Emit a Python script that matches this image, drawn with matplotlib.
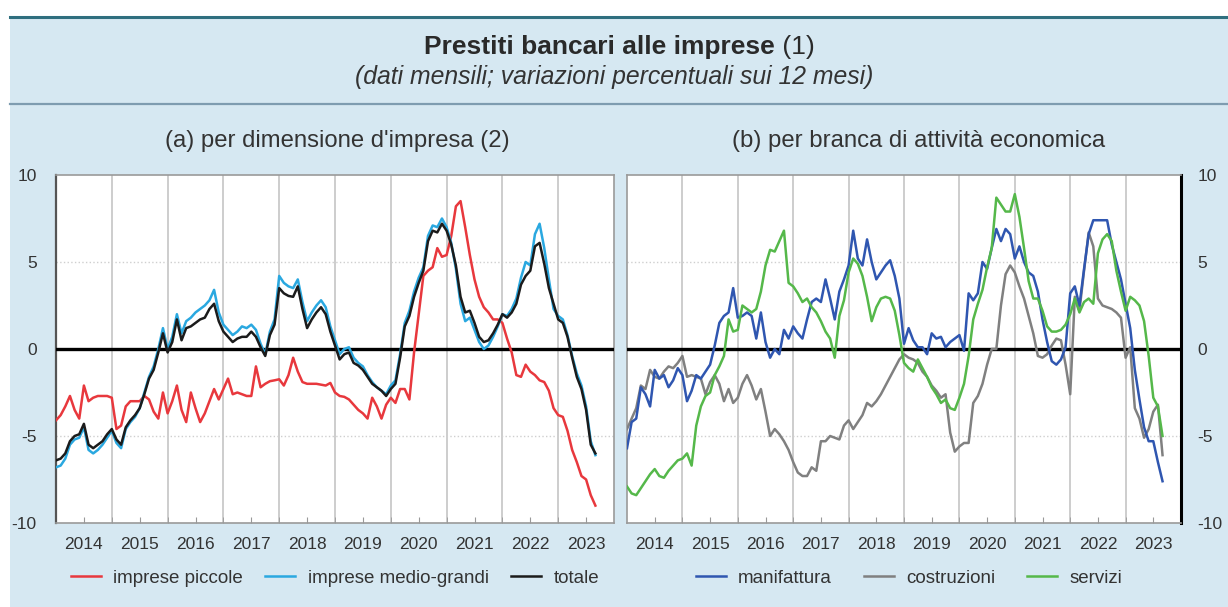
import numpy as np
import matplotlib.pyplot as plt
from matplotlib.patches import Rectangle
from matplotlib.lines import Line2D

plt.rcParams['font.family'] = ['Liberation Sans', 'DejaVu Sans']

# monthly data, Jan 2014 - Sep 2023
start_year = 2014
years = list(range(2014, 2024))

piccole = [-4.1, -3.8, -3.3, -2.7, -3.5, -4.0, -2.1, -3.0, -2.8, -2.7, -2.7, -2.7,
           -2.8, -4.6, -4.4, -3.3, -3.0, -3.0, -3.0, -2.7, -2.9, -3.6, -4.0, -2.5,
           -3.7, -3.0, -2.1, -3.5, -4.2, -2.5, -3.4, -4.2, -3.7, -3.0, -2.3, -2.9,
           -2.3, -1.7, -2.6, -2.5, -2.6, -2.7, -2.7, -1.0, -2.2, -2.0, -1.85, -1.8,
           -1.74, -2.1, -1.5, -0.5, -1.3, -1.9, -2.0, -2.0, -2.0, -2.05, -2.1, -1.95,
           -2.5, -2.7, -2.75, -2.9, -3.2, -3.5, -3.7, -4.0, -2.8, -3.3, -4.0, -3.2,
           -2.8, -3.1, -2.3, -2.3, -2.9, -0.2, 2.0, 4.2, 4.5, 4.7, 5.8, 5.3,
           5.4, 6.5, 8.2, 8.5, 7.0, 5.4, 4.0, 3.0, 2.4, 2.1, 1.7, 1.7,
           1.5, 0.6, -0.2, -1.5, -1.6, -0.9, -1.3, -1.5, -1.8, -1.9, -2.4, -3.4,
           -3.8, -3.9, -4.7, -5.8, -6.5, -7.3, -7.5, -8.4, -9.0]

medio_grandi = [-6.8, -6.7, -6.3, -5.5, -5.2, -5.1, -4.5, -5.8, -6.0, -5.8, -5.5, -5.1,
                -4.7, -5.4, -5.7, -4.6, -4.2, -3.9, -3.4, -2.5, -1.6, -1.0, 0.0, 1.2,
                0.0, 0.7, 2.0, 0.9, 1.6, 1.8, 2.1, 2.3, 2.5, 2.8, 3.4, 2.1,
                1.4, 1.1, 0.8, 1.0, 1.3, 1.2, 1.4, 1.1, 0.3, -0.3, 1.0, 1.7,
                4.2, 3.8, 3.6, 3.5, 4.0, 2.7, 1.6, 2.1, 2.5, 2.8, 2.4, 1.3,
                0.5, -0.3, 0.0, 0.1, -0.5, -0.8, -1.0, -1.5, -1.9, -2.2, -2.4, -2.6,
                -2.1, -1.8, -0.3, 1.5, 2.2, 3.3, 4.1, 4.7, 6.5, 7.1, 7.0, 7.5,
                7.0, 6.1, 4.6, 2.6, 1.6, 1.8, 1.1, 0.4, 0.0, 0.2, 0.7, 1.3,
                2.0, 1.9, 2.3, 2.9, 4.1, 5.0, 4.8, 6.6, 7.2, 5.8, 4.0, 2.3,
                1.9, 1.7, 0.8, -0.4, -1.4, -2.1, -3.3, -5.3, -6.1]

totale = [-6.4, -6.3, -6.0, -5.3, -5.0, -4.9, -4.3, -5.5, -5.7, -5.5, -5.3, -4.9,
          -4.6, -5.2, -5.5, -4.5, -4.1, -3.8, -3.4, -2.6, -1.7, -1.2, -0.2, 0.9,
          -0.2, 0.4, 1.7, 0.5, 1.2, 1.3, 1.5, 1.7, 1.8, 2.3, 2.6, 1.6,
          1.0, 0.7, 0.4, 0.6, 0.7, 0.7, 1.0, 0.7, 0.1, -0.4, 0.8, 1.4,
          3.5, 3.2, 3.05, 3.0, 3.6, 2.3, 1.2, 1.7, 2.1, 2.4, 2.0, 1.0,
          0.2, -0.6, -0.3, -0.2, -0.8, -0.95, -1.2, -1.6, -2.0, -2.2, -2.4, -2.7,
          -2.3, -2.0, -0.5, 1.3, 1.9, 3.0, 3.8, 4.5, 6.2, 6.8, 6.7, 7.2,
          6.8, 6.0, 4.8, 3.0, 2.1, 2.2, 1.5, 0.7, 0.4, 0.5, 0.9, 1.4,
          2.0, 1.8, 2.1, 2.6, 3.7, 4.2, 4.5, 5.9, 6.1, 4.9, 3.5, 2.6,
          1.7, 1.5, 0.7, -0.5, -1.6, -2.3, -3.5, -5.5, -6.0]

manifattura = [-5.7, -4.2, -4.0, -2.2, -2.6, -3.3, -1.2, -1.7, -1.5, -2.2, -1.8, -1.1,
               -1.5, -3.0, -2.4, -1.5, -1.7, -1.3, -0.9, 0.2, 1.5, 1.9, 2.1, 3.5,
               1.8, 1.9, 2.1, 1.9, 0.6, 2.1, 0.4, -0.5, 0.0, -0.3, 1.1, 0.6,
               1.3, 0.9, 0.6, 1.7, 2.7, 2.9, 2.7, 4.0, 2.9, 1.7, 3.3, 4.0,
               4.8, 6.8, 5.2, 4.8, 6.3, 5.0, 4.0, 4.4, 4.8, 5.1, 4.2, 2.9,
               0.3, 1.2, 0.5, 0.1, 0.1, -0.3, 0.9, 0.6, 0.7, 0.1, 0.4, 0.6,
               0.8, -0.1, 3.2, 2.8, 3.2, 5.0, 4.6, 5.8, 6.9, 6.2, 6.9, 6.6,
               5.2, 5.9, 5.0, 4.4, 4.2, 3.3, 1.7, 0.4, -0.7, -0.9, -0.6, 0.1,
               3.2, 3.6, 2.5, 4.6, 6.6, 7.4, 7.4, 7.4, 7.4, 6.0, 5.0, 4.0,
               2.6, 1.2, -1.2, -2.9, -4.5, -5.3, -5.3, -6.5, -7.6]

costruzioni = [-4.6, -4.0, -3.4, -2.1, -2.3, -1.2, -1.6, -1.7, -1.3, -1.0, -1.1, -0.8,
               -0.4, -1.6, -1.5, -1.6, -1.7, -2.6, -1.9, -1.5, -2.0, -3.0, -2.3, -3.1,
               -2.8, -2.0, -1.5, -2.1, -2.9, -2.3, -3.6, -5.0, -4.6, -4.9, -5.3, -5.8,
               -6.5, -7.1, -7.3, -7.3, -6.8, -7.0, -5.3, -5.3, -5.0, -5.1, -5.2, -4.4,
               -4.1, -4.6, -4.2, -3.8, -3.1, -3.3, -3.0, -2.6, -2.1, -1.6, -1.1, -0.6,
               -0.3, -0.5, -0.6, -0.8, -1.3, -1.6, -2.1, -2.4, -2.8, -2.6, -4.8, -5.9,
               -5.6, -5.4, -5.4, -3.1, -2.7, -2.0, -0.9, 0.0, 0.0, 2.5, 4.3, 4.8,
               4.4, 3.6, 2.9, 1.9, 0.9, -0.4, -0.5, -0.3, 0.2, 0.6, 0.5, -0.9,
               -2.6, 3.0, 2.2, 4.5, 6.7, 5.9, 2.9, 2.5, 2.4, 2.3, 2.1, 1.8,
               -0.5, 0.1, -3.4, -4.0, -5.1, -4.6, -3.6, -3.2, -6.1]

servizi = [-7.9, -8.3, -8.4, -8.0, -7.6, -7.2, -6.9, -7.3, -7.4, -7.0, -6.7, -6.4,
           -6.3, -6.0, -6.7, -4.4, -3.3, -2.7, -2.5, -1.5, -1.0, -0.4, 1.7, 1.0,
           1.1, 2.5, 2.3, 2.1, 2.3, 3.3, 4.8, 5.7, 5.6, 6.2, 6.8, 3.8,
           3.6, 3.2, 2.7, 2.9, 2.4, 2.1, 1.6, 1.0, 0.6, -0.5, 1.9, 2.8,
           4.4, 5.2, 4.9, 4.2, 3.0, 1.6, 2.4, 2.9, 3.0, 2.9, 2.2, 0.8,
           -0.8, -1.1, -1.3, -0.6, -1.1, -1.6, -2.2, -2.6, -3.1, -2.9, -3.4, -3.5,
           -2.8, -2.0, -0.4, 1.7, 2.6, 3.4, 4.7, 5.8, 8.7, 8.3, 7.9, 7.9,
           8.9, 7.6, 5.8, 3.9, 2.9, 2.9, 2.2, 1.3, 1.0, 1.0, 1.1, 1.4,
           2.0, 2.9, 2.1, 2.7, 2.9, 2.6, 5.5, 6.3, 6.6, 6.2, 4.5, 3.3,
           2.2, 3.0, 2.8, 2.5, 1.6, -0.4, -2.8, -3.3, -5.0]

x = start_year + np.arange(len(totale)) / 12.0

bg = '#d6e8f2'
txt = '#333333'

fig = plt.figure(figsize=(12.28, 6.07), dpi=100)
fig.patch.set_facecolor('white')
fig.patches.append(Rectangle((10 / 1228, 0), 1, 1 - 17 / 607, transform=fig.transFigure,
                             facecolor=bg, edgecolor='none', zorder=-10))
fig.add_artist(Line2D([10 / 1228, 1], [1 - 17 / 607] * 2, color='#2f6f7f', lw=2.2))
fig.add_artist(Line2D([10 / 1228, 1], [1 - 104 / 607] * 2, color='#7e9cb0', lw=1.6))

ax1 = fig.add_axes([56 / 1228, 1 - 523 / 607, 558 / 1228, 348 / 607])
ax2 = fig.add_axes([627 / 1228, 1 - 523 / 607, 554 / 1228, 348 / 607])

# title: bold part + regular note number
t1 = fig.text(424 / 1228, 1 - 47 / 607, 'Prestiti bancari alle imprese', ha='left', va='center',
              fontsize=19, fontweight='bold', color='#2a2a2a')
ax1.annotate(' (1)', xy=(1, 0.5), xycoords=t1, ha='left', va='center',
             fontsize=19, color='#2a2a2a', annotation_clip=False)
fig.text(0.5, 1 - 77 / 607, '(dati mensili; variazioni percentuali sui 12 mesi)', ha='center',
         va='center', fontsize=17.8, style='italic', color='#333333')

fig.text(337 / 1228, 1 - 141 / 607, "(a) per dimensione d'impresa (2)", ha='center', va='center',
         fontsize=17.2, color=txt)
fig.text(919 / 1228, 1 - 141 / 607, '(b) per branca di attività economica', ha='center',
         va='center', fontsize=17.2, color=txt)

for ax in (ax1, ax2):
    ax.set_facecolor('white')
    ax.set_xlim(2014, 2024)
    ax.set_ylim(-10, 10)
    for yr in range(2015, 2024):
        ax.axvline(yr, color='#c9c9c9', lw=1.3, zorder=1)
    for v in (-5, 5):
        ax.axhline(v, color='#cfcfcf', lw=1.0, ls=':', zorder=1)
    ax.axhline(0, color='black', lw=2.4, zorder=3)
    ax.set_xticks([y + 0.5 for y in years])
    ax.set_xticklabels([str(y) for y in years])
    ax.set_xticks(list(range(2015, 2024)), minor=True)
    ax.tick_params(axis='x', which='both', direction='in', length=4, color='#999999',
                   labelsize=12.5, labelcolor=txt, pad=10)
    ax.set_yticks([-10, -5, 0, 5, 10])
    ax.set_yticklabels(['-10', '-5', '0', '5', '10'])
    for s in ax.spines.values():
        s.set_color('#9a9a9a')
        s.set_linewidth(1.2)

ax1.tick_params(axis='y', length=0, labelsize=12.5, labelcolor=txt, pad=14)
ax1.spines['left'].set_color('#555555')
ax1.spines['left'].set_linewidth(1.6)
ax2.yaxis.tick_right()
ax2.tick_params(axis='y', length=0, labelsize=12.5, labelcolor=txt, pad=12)
ax2.spines['right'].set_color('black')
ax2.spines['right'].set_linewidth(2.2)

ax1.plot(x, piccole, color='#e8383d', lw=1.8, label='imprese piccole', zorder=4)
ax1.plot(x, medio_grandi, color='#2aa8e0', lw=1.8, label='imprese medio-grandi', zorder=5)
ax1.plot(x, totale, color='#1b1b1b', lw=1.8, label='totale', zorder=6)

ax2.plot(x, manifattura, color='#2f56b0', lw=1.8, label='manifattura', zorder=5)
ax2.plot(x, costruzioni, color='#808080', lw=1.8, label='costruzioni', zorder=4)
ax2.plot(x, servizi, color='#55b84a', lw=1.8, label='servizi', zorder=6)

for ax, cx, cs in ((ax1, 335 / 1228, 1.2), (ax2, 909 / 1228, 1.7)):
    ax.legend(loc='center', bbox_to_anchor=(cx, 1 - 578 / 607), bbox_transform=fig.transFigure,
              ncol=3, frameon=False, fontsize=13.5, handlelength=1.6, handletextpad=0.65,
              columnspacing=cs, labelcolor=txt)

fig.savefig('out.png', dpi=100, facecolor=fig.get_facecolor())
